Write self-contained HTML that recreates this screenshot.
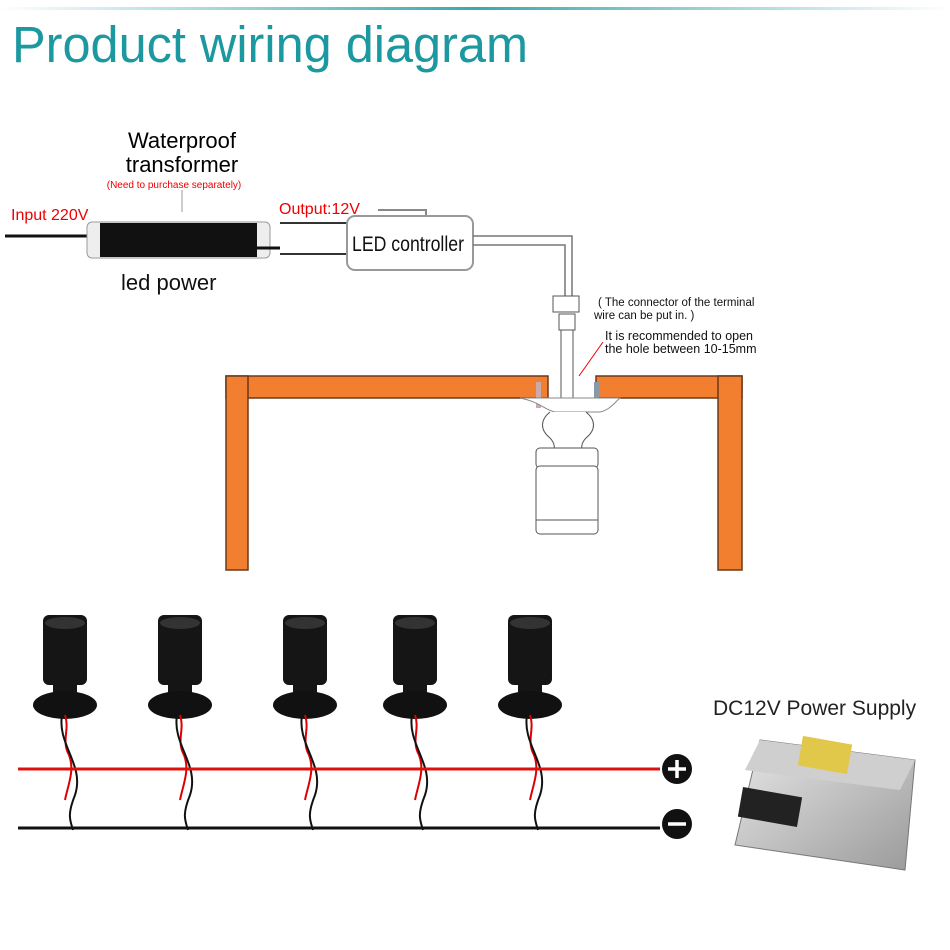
<!DOCTYPE html>
<html><head><style>body{margin:0;background:#fff;overflow:hidden}svg{display:block}</style></head><body>
<svg width="950" height="950" viewBox="0 0 950 950" xmlns="http://www.w3.org/2000/svg" font-family="Liberation Sans, sans-serif">
<defs>
<linearGradient id="tl" x1="0" x2="1"><stop offset="0" stop-color="#fff"/><stop offset="0.5" stop-color="#3aa9ad"/><stop offset="1" stop-color="#fff"/></linearGradient>
<linearGradient id="ps" x1="0" x2="1" y1="0" y2="1"><stop offset="0" stop-color="#e8e8e8"/><stop offset="1" stop-color="#9a9a9a"/></linearGradient>
<g id="lamp">
<rect x="-22" y="0" width="44" height="70" rx="6" fill="#151515"/>
<ellipse cx="0" cy="8" rx="20" ry="6" fill="#333"/>
<rect x="-12" y="68" width="24" height="12" fill="#151515"/>
<ellipse cx="0" cy="90" rx="32" ry="14" fill="#111"/>
<path d="M0,100 C5,115 -4,125 4,140 C10,155 3,170 0,185" fill="none" stroke="#d00" stroke-width="2"/>
<path d="M-3,100 C-8,130 20,150 10,180 C2,200 5,205 8,215" fill="none" stroke="#111" stroke-width="2"/>
</g>
</defs>
<rect x="0" y="7" width="950" height="3" fill="url(#tl)"/>
<text x="12" y="62" font-size="51" fill="#1b98a0" textLength="516" lengthAdjust="spacingAndGlyphs">Product wiring diagram</text>

<text x="182" y="148" font-size="22" text-anchor="middle">Waterproof</text>
<text x="182" y="172" font-size="22" text-anchor="middle">transformer</text>
<text x="174" y="188" font-size="10" fill="#e00" text-anchor="middle">(Need to purchase separately)</text>
<line x1="182" y1="190" x2="182" y2="212" stroke="#999"/>
<text x="11" y="220" font-size="16" fill="#e00">Input 220V</text>
<line x1="5" y1="236" x2="95" y2="236" stroke="#111" stroke-width="3"/>
<rect x="87" y="222" width="183" height="36" rx="5" fill="#eee" stroke="#999"/>
<rect x="100" y="223" width="157" height="34" fill="#111"/>
<line x1="255" y1="248" x2="280" y2="248" stroke="#111" stroke-width="3"/>
<text x="279" y="214" font-size="16" fill="#e00">Output:12V</text>
<polyline points="378,210 426,210 426,216" fill="none" stroke="#888" stroke-width="2"/>
<line x1="280" y1="223" x2="348" y2="223" stroke="#333" stroke-width="2"/>
<line x1="280" y1="254" x2="348" y2="254" stroke="#333" stroke-width="2"/>
<rect x="347" y="216" width="126" height="54" rx="8" fill="#fff" stroke="#999" stroke-width="2"/>
<text x="352" y="251" font-size="21" fill="#111" textLength="112" lengthAdjust="spacingAndGlyphs">LED controller</text>
<text x="121" y="290" font-size="22" fill="#111">led power</text>

<polyline points="473,236 572,236 572,298" fill="none" stroke="#777" stroke-width="1.5"/>
<polyline points="473,245 565,245 565,298" fill="none" stroke="#777" stroke-width="1.5"/>
<rect x="553" y="296" width="26" height="16" fill="#fff" stroke="#555"/>
<rect x="559" y="314" width="16" height="16" fill="#fff" stroke="#555"/>
<rect x="561" y="330" width="12" height="88" fill="#fff" stroke="#555"/>
<text x="598" y="306" font-size="11.5" fill="#111">( The connector of the terminal</text>
<text x="594" y="319" font-size="11.5" fill="#111">wire can be put in. )</text>
<text x="605" y="340" font-size="12.5" fill="#111">It is recommended to open</text>
<text x="605" y="353" font-size="12.5" fill="#111">the hole between 10-15mm</text>
<line x1="603" y1="342" x2="579" y2="376" stroke="#e00"/>

<g fill="#f27f2f" stroke="#6a3a1a" stroke-width="1.5">
<rect x="226" y="376" width="322" height="22"/>
<rect x="596" y="376" width="146" height="22"/>
<rect x="226" y="376" width="22" height="194"/>
<rect x="718" y="376" width="24" height="194"/>
</g>
<rect x="227" y="377" width="20" height="20" fill="#f27f2f"/>
<rect x="719" y="377" width="22" height="20" fill="#f27f2f"/>
<rect x="536" y="382" width="5" height="26" fill="#caa"/>
<rect x="594" y="382" width="5" height="26" fill="#89a"/>
<path d="M520,398 C540,402 545,410 555,412 L600,412 C610,410 615,402 620,398 Z" fill="#fff" stroke="#888"/>
<path d="M550,412 C540,420 540,430 550,438 C556,444 554,450 554,450 L582,450 C582,450 580,444 586,438 C596,430 596,420 586,412" fill="#fff" stroke="#555"/>
<rect x="536" y="448" width="62" height="20" rx="4" fill="#fff" stroke="#555"/>
<rect x="536" y="466" width="62" height="68" rx="4" fill="#fff" stroke="#555"/>
<line x1="536" y1="520" x2="598" y2="520" stroke="#555"/>

<use href="#lamp" x="65" y="615"/>
<use href="#lamp" x="180" y="615"/>
<use href="#lamp" x="305" y="615"/>
<use href="#lamp" x="415" y="615"/>
<use href="#lamp" x="530" y="615"/>
<line x1="18" y1="769" x2="660" y2="769" stroke="#e01010" stroke-width="3"/>
<line x1="18" y1="828" x2="660" y2="828" stroke="#111" stroke-width="3"/>
<circle cx="677" cy="769" r="15" fill="#111"/>
<path d="M668,769h18M677,760v18" stroke="#fff" stroke-width="3.5"/>
<circle cx="677" cy="824" r="15" fill="#111"/>
<path d="M668,824h18" stroke="#fff" stroke-width="3.5"/>

<text x="713" y="715" font-size="21" fill="#222">DC12V Power Supply</text>
<path d="M760,740 L915,760 L905,870 L735,845 Z" fill="url(#ps)" stroke="#777"/>
<path d="M760,740 L915,760 L900,790 L745,770 Z" fill="#cfcfcf"/>
<rect x="740" y="792" width="60" height="30" fill="#222" transform="rotate(10 770 807)"/>
<rect x="800" y="740" width="50" height="30" fill="#e2c84a" transform="rotate(10 825 755)"/>
</svg>
</body></html>
